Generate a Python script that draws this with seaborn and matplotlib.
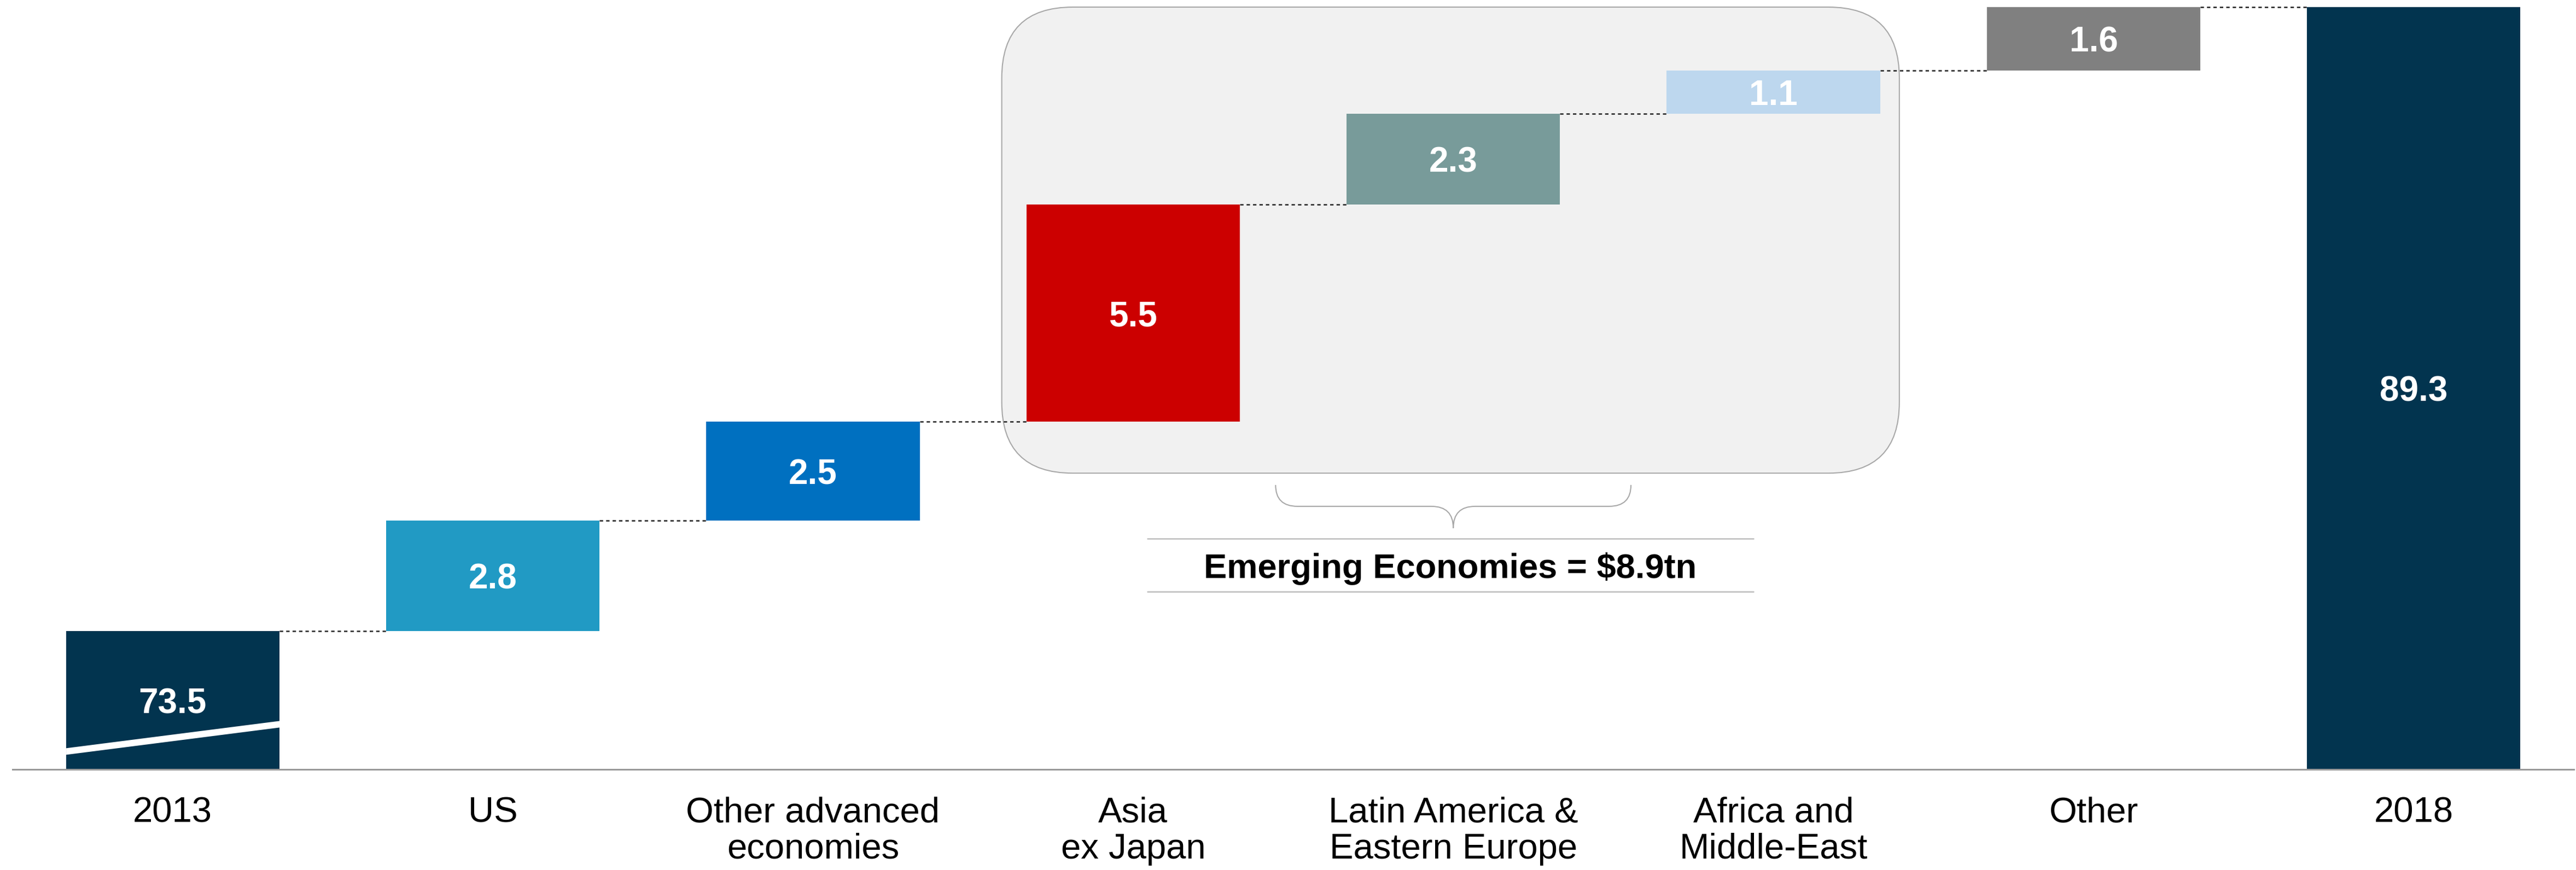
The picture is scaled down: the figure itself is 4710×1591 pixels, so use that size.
import numpy as np
import pandas as pd
import matplotlib
matplotlib.use("Agg")
import matplotlib.pyplot as plt
import seaborn as sns
from matplotlib.patches import FancyBboxPatch, PathPatch
from matplotlib.path import Path

# ---- data -------------------------------------------------------------
categories = ["2013", "US", "Other advanced\neconomies", "Asia\nex Japan",
              "Latin America &\nEastern Europe", "Africa and\nMiddle-East",
              "Other", "2018"]
values = [73.5, 2.8, 2.5, 5.5, 2.3, 1.1, 1.6, 89.3]
is_total = [True, False, False, False, False, False, False, True]
bar_colors = ["#02344F", "#219AC4", "#0070C0", "#CC0000",
              "#789B9A", "#BDD7EE", "#808080", "#02344F"]
emerging_idx = [3, 4, 5]
emerging_label = "Emerging Economies = $8.9tn"
axis_floor = 70.0

# ---- waterfall geometry ----------------------------------------------
bases, running = [], 0.0
for v, tot in zip(values, is_total):
    if tot:
        bases.append(0.0)
        running = v
    else:
        bases.append(running)
        running += v
tops = [b + v for b, v in zip(bases, values)]

df = pd.DataFrame({"category": categories, "value": values})

sns.set_theme(style="white")
plt.rcParams["font.family"] = ["Liberation Sans", "DejaVu Sans"]

W, H = 4710, 1591
fig = plt.figure(figsize=(W / 100, H / 100), dpi=100)
ax = fig.add_axes([23 / W, 184 / H, (4706 - 23) / W, 1 - 184 / H])

BAR_W = 2 / 3
sns.barplot(data=df, x="category", y="value", hue="category",
            palette=bar_colors, width=BAR_W, saturation=1, legend=False,
            linewidth=0, ax=ax, zorder=3)

# float the increment bars on their running base
for rect in ax.patches:
    idx = int(round(rect.get_x() + rect.get_width() / 2))
    rect.set_y(bases[idx])

XLIM = (-0.5, len(categories) - 0.5)
YLIM = (axis_floor, tops[-1] + 0.18)


def set_limits():
    ax.set_xlim(*XLIM)
    ax.set_ylim(*YLIM)


set_limits()

# axis styling
ax.set_xlabel("")
ax.set_ylabel("")
ax.set_yticks([])
for side in ["left", "right", "top"]:
    ax.spines[side].set_visible(False)
ax.spines["bottom"].set_color("#9A9A9A")
ax.spines["bottom"].set_linewidth(2.2)
ax.spines["bottom"].set_zorder(5)
ax.tick_params(axis="x", length=0, pad=36, labelsize=47, labelcolor="black")
for lbl in ax.get_xticklabels():
    lbl.set_linespacing(1.12)

# broken-axis mark on the first total bar
x0, x1 = 0 - BAR_W / 2, 0 + BAR_W / 2
yb0, yb1, half = axis_floor + 0.46, axis_floor + 1.15, 0.083
ax.fill_between([x0, x1], [yb0 - half, yb1 - half], [yb0 + half, yb1 + half],
                color="white", lw=0, zorder=4)

# dashed connectors between consecutive bars
for i in range(len(values) - 1):
    ax.plot([i + BAR_W / 2, i + 1 - BAR_W / 2], [tops[i], tops[i]],
            color="#222222", lw=1.8, ls=(0, (2.5, 2.2)), zorder=4,
            solid_capstyle="butt", dash_capstyle="butt")

# value labels
for i, (b, t, v) in enumerate(zip(bases, tops, values)):
    yc = (max(b, axis_floor) + t) / 2
    ax.text(i, yc, f"{v:.1f}", ha="center", va="center_baseline",
            color="white", fontsize=46, fontweight="bold", zorder=6)

# ---- emerging-economies highlight ------------------------------------
to_in = ax.transData + fig.dpi_scale_trans.inverted()

g_left = emerging_idx[0] - BAR_W / 2 - 0.077
g_right = emerging_idx[-1] + BAR_W / 2 + 0.06
g_bottom = 77.5
g_top = tops[-1]
(xa, ya) = to_in.transform((g_left, g_bottom))
(xb, yb) = to_in.transform((g_right, g_top))
box = FancyBboxPatch((xa, ya), xb - xa, yb - ya,
                     boxstyle="round,pad=0,rounding_size=1.3",
                     transform=fig.dpi_scale_trans, facecolor="#F1F1F1",
                     edgecolor="#A8A8A8", lw=1.5, zorder=1)
ax.add_patch(box)

# curly brace under the group
g_mid = emerging_idx[1]
(L, T) = to_in.transform((g_mid - 0.555, 77.2))
(R, M) = to_in.transform((g_mid + 0.555, 76.66))
(C, TIP) = to_in.transform((g_mid, 76.11))
r = 0.4
verts = [(L, T), (L, M), (L + r, M), (C - r, M), (C, M), (C, TIP),
         (C, M), (C + r, M), (R - r, M), (R, M), (R, T)]
codes = [Path.MOVETO, Path.CURVE3, Path.CURVE3, Path.LINETO,
         Path.CURVE3, Path.CURVE3, Path.CURVE3, Path.CURVE3,
         Path.LINETO, Path.CURVE3, Path.CURVE3]
brace = PathPatch(Path(verts, codes), transform=fig.dpi_scale_trans,
                  fill=False, edgecolor="#A8A8A8", lw=1.5, zorder=2)
ax.add_patch(brace)

# caption with rules above and below
for yr in (75.84, 74.50):
    ax.plot([g_mid - 0.955, g_mid + 0.938], [yr, yr], color="#BDBDBD",
            lw=1.8, zorder=2, clip_on=False)
ax.text(g_mid - 0.01, 75.17, emerging_label, ha="center", va="center_baseline",
        fontsize=45.5, fontweight="bold", color="black", zorder=6)

set_limits()

fig.savefig("out.png", dpi=100)
